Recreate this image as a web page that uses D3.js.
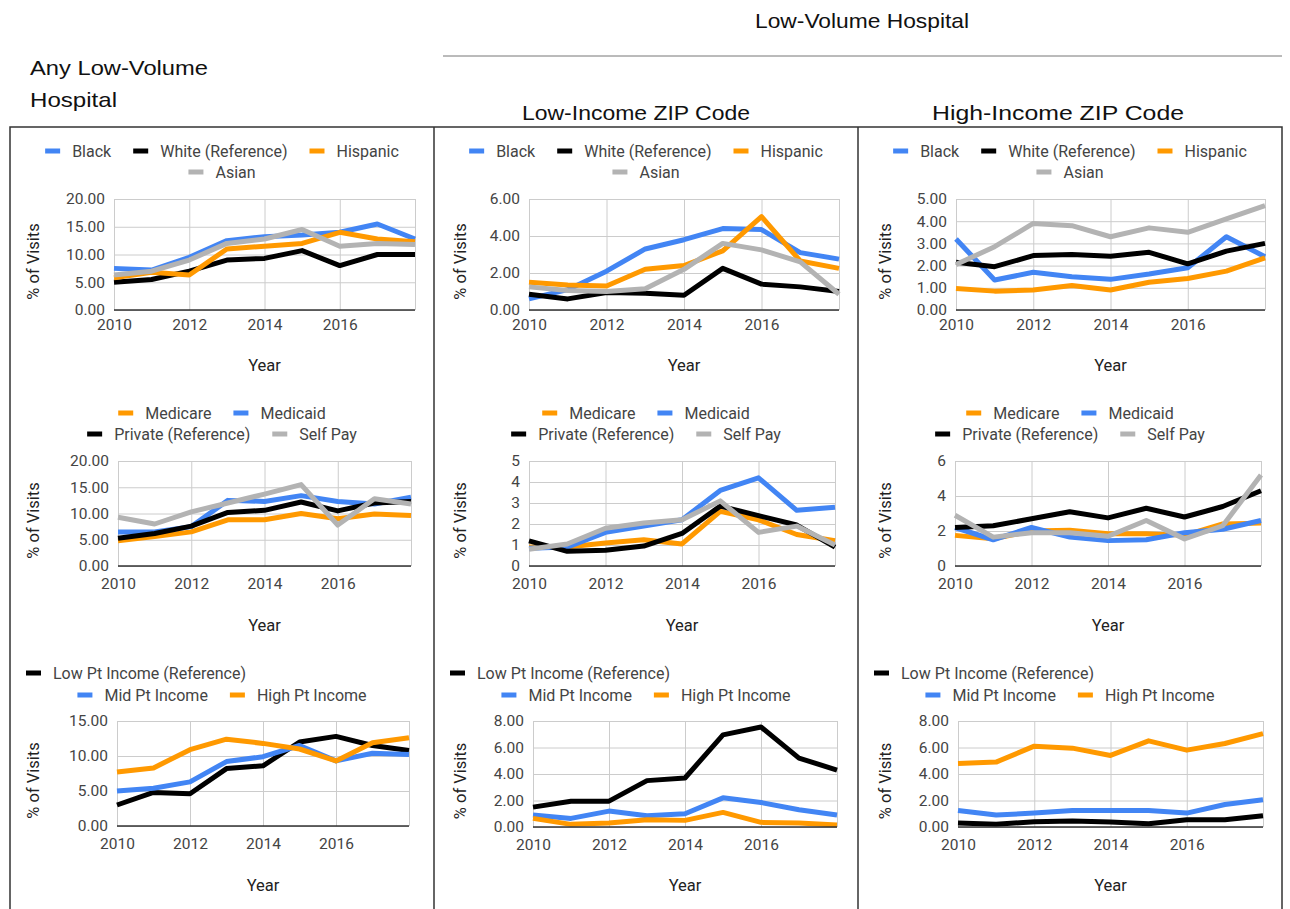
<!DOCTYPE html>
<html><head><meta charset="utf-8">
<script src="https://cdn.jsdelivr.net/npm/d3@7"></script>
<style>body{margin:0;background:#fff}svg{display:block}</style>
</head><body>
<svg id="c" width="1290" height="909"></svg>
<script>
// ---------- DATA ----------
const years = [2010, 2011, 2012, 2013, 2014, 2015, 2016, 2017, 2018];
const xTickYears = [2010, 2012, 2014, 2016];
const raceLabels = ["Black", "White (Reference)", "Hispanic", "Asian"];
const payerLabels = ["Medicare", "Medicaid", "Private (Reference)", "Self Pay"];
const incomeLabels = ["Low Pt Income (Reference)", "Mid Pt Income", "High Pt Income"];
const headerTop = "Low-Volume Hospital";
const headerAny = ["Any Low-Volume", "Hospital"];
const headerLowZip = "Low-Income ZIP Code";
const headerHighZip = "High-Income ZIP Code";
const xTitle = "Year";
const yTitle = "% of Visits";

// Any low-volume hospital — race
const anyBlack    = [7.5, 7.2, 9.5, 12.5, 13.2, 13.5, 14.0, 15.5, 12.8];
const anyWhite    = [5.0, 5.5, 7.0, 9.0, 9.3, 10.7, 8.0, 10.0, 10.0];
const anyHispanic = [5.8, 6.8, 6.3, 11.0, 11.5, 12.0, 14.0, 12.8, 12.3];
const anyAsian    = [6.3, 7.0, 9.0, 12.0, 12.8, 14.5, 11.5, 12.0, 11.8];
// Low-income ZIP — race
const lowBlack    = [0.6, 1.1, 2.1, 3.3, 3.8, 4.4, 4.35, 3.1, 2.75];
const lowWhite    = [0.85, 0.6, 0.95, 0.9, 0.8, 2.25, 1.4, 1.25, 1.0];
const lowHispanic = [1.5, 1.35, 1.3, 2.2, 2.4, 3.2, 5.05, 2.65, 2.25];
const lowAsian    = [1.25, 1.05, 1.0, 1.15, 2.2, 3.6, 3.25, 2.6, 0.85];
// High-income ZIP — race
const highBlack    = [3.2, 1.35, 1.7, 1.5, 1.38, 1.62, 1.9, 3.3, 2.4];
const highWhite    = [2.15, 1.95, 2.45, 2.5, 2.42, 2.6, 2.08, 2.65, 3.0];
const highHispanic = [0.97, 0.85, 0.9, 1.1, 0.9, 1.25, 1.42, 1.75, 2.35];
const highAsian    = [2.05, 2.85, 3.9, 3.8, 3.3, 3.7, 3.5, 4.1, 4.7];
// Any — payer
const anyMedicare = [4.8, 5.6, 6.5, 8.8, 8.8, 10.0, 9.0, 9.9, 9.6];
const anyMedicaid = [6.5, 6.5, 7.5, 12.5, 12.3, 13.4, 12.3, 11.8, 13.1];
const anyPrivate  = [5.3, 6.2, 7.6, 10.2, 10.6, 12.2, 10.5, 12.0, 12.3];
const anySelfPay  = [9.3, 8.0, 10.3, 12.0, 13.7, 15.5, 7.8, 12.8, 11.8];
// Low-income ZIP — payer
const lowMedicare = [0.9, 0.9, 1.1, 1.25, 1.05, 2.6, 2.2, 1.5, 1.2];
const lowMedicaid = [0.85, 0.9, 1.6, 1.9, 2.2, 3.6, 4.2, 2.65, 2.8];
const lowPrivate  = [1.2, 0.7, 0.75, 0.95, 1.55, 2.85, 2.4, 1.95, 0.9];
const lowSelfPay  = [0.8, 1.05, 1.8, 2.05, 2.2, 3.1, 1.6, 1.9, 1.0];
// High-income ZIP — payer
const highMedicare = [1.75, 1.55, 2.0, 2.05, 1.85, 1.85, 1.75, 2.4, 2.45];
const highMedicaid = [2.2, 1.5, 2.2, 1.65, 1.45, 1.5, 1.9, 2.1, 2.6];
const highPrivate  = [2.2, 2.3, 2.7, 3.1, 2.75, 3.3, 2.8, 3.4, 4.3];
const highSelfPay  = [2.9, 1.65, 1.9, 1.9, 1.7, 2.6, 1.55, 2.3, 5.2];
// Any — patient income
const anyLowInc  = [3.0, 4.8, 4.6, 8.2, 8.6, 12.0, 12.8, 11.5, 10.8];
const anyMidInc  = [5.0, 5.4, 6.3, 9.2, 9.9, 11.5, 9.3, 10.4, 10.2];
const anyHighInc = [7.7, 8.3, 10.9, 12.4, 11.8, 11.0, 9.3, 11.9, 12.6];
// Low-income ZIP — patient income
const lowLowInc  = [1.5, 1.95, 1.95, 3.5, 3.7, 6.95, 7.55, 5.2, 4.3];
const lowMidInc  = [0.9, 0.65, 1.2, 0.85, 1.0, 2.2, 1.85, 1.3, 0.9];
const lowHighInc = [0.65, 0.2, 0.3, 0.55, 0.5, 1.1, 0.35, 0.3, 0.15];
// High-income ZIP — patient income
const highLowInc  = [0.3, 0.2, 0.4, 0.45, 0.38, 0.25, 0.55, 0.55, 0.85];
const highMidInc  = [1.25, 0.9, 1.05, 1.25, 1.25, 1.25, 1.05, 1.7, 2.05];
const highHighInc = [4.8, 4.9, 6.1, 5.95, 5.4, 6.5, 5.8, 6.3, 7.05];

// ---------- STYLE / LAYOUT ----------
const BLUE = "#4285f4", BLACK = "#000000", ORANGE = "#ff9900", GRAY = "#b3b3b3";
const raceColors = [BLUE, BLACK, ORANGE, GRAY];
const payerColors = [ORANGE, BLUE, BLACK, GRAY];
const incomeColors = [BLACK, BLUE, ORANGE];
const colBounds = [[10, 434], [434, 858], [858, 1282]];

const panels = [
  {c:0, r:0, x0:114, x1:415, y0:199, y1:310, labels:raceLabels, colors:raceColors, series:[anyBlack, anyWhite, anyHispanic, anyAsian], yMax:20, yStep:5, fmt:".2f", rows:[[0,1,2],[3]]},
  {c:1, r:0, x0:529, x1:839, y0:199, y1:310, labels:raceLabels, colors:raceColors, series:[lowBlack, lowWhite, lowHispanic, lowAsian], yMax:6, yStep:2, fmt:".2f", rows:[[0,1,2],[3]]},
  {c:2, r:0, x0:956, x1:1265, y0:199, y1:310, labels:raceLabels, colors:raceColors, series:[highBlack, highWhite, highHispanic, highAsian], yMax:5, yStep:1, fmt:".2f", rows:[[0,1,2],[3]]},
  {c:0, r:1, x0:118, x1:411, y0:461, y1:566, labels:payerLabels, colors:payerColors, series:[anyMedicare, anyMedicaid, anyPrivate, anySelfPay], yMax:20, yStep:5, fmt:".2f", rows:[[0,1],[2,3]]},
  {c:1, r:1, x0:529, x1:835, y0:461, y1:566, labels:payerLabels, colors:payerColors, series:[lowMedicare, lowMedicaid, lowPrivate, lowSelfPay], yMax:5, yStep:1, fmt:"d", rows:[[0,1],[2,3]]},
  {c:2, r:1, x0:955, x1:1261, y0:461, y1:566, labels:payerLabels, colors:payerColors, series:[highMedicare, highMedicaid, highPrivate, highSelfPay], yMax:6, yStep:2, fmt:"d", rows:[[0,1],[2,3]]},
  {c:0, r:2, x0:117, x1:409, y0:721, y1:826, labels:incomeLabels, colors:incomeColors, series:[anyLowInc, anyMidInc, anyHighInc], yMax:15, yStep:5, fmt:".2f", rows:[[0],[1,2]], leftFirst:true},
  {c:1, r:2, x0:533, x1:837, y0:721, y1:827, labels:incomeLabels, colors:incomeColors, series:[lowLowInc, lowMidInc, lowHighInc], yMax:8, yStep:2, fmt:".2f", rows:[[0],[1,2]], leftFirst:true},
  {c:2, r:2, x0:958, x1:1263, y0:721, y1:827, labels:incomeLabels, colors:incomeColors, series:[highLowInc, highMidInc, highHighInc], yMax:8, yStep:2, fmt:".2f", rows:[[0],[1,2]], leftFirst:true}
];
const legendRowY = [[151, 172], [413, 434], [673, 695]];
const yearTitleY = [371, 631, 891];
const xLabelPad = [9, 12, 12];

const svg = d3.select("#c");
const FONT = "Roboto, 'Noto Sans', sans-serif";
const TFONT = "'Liberation Sans', Arial, sans-serif";

function header(x, y, anchor, len, t) {
  svg.append("text").attr("x", x).attr("y", y).attr("text-anchor", anchor)
    .attr("font-family", TFONT).attr("font-size", 21).attr("fill", "#111")
    .attr("textLength", len).attr("lengthAdjust", "spacingAndGlyphs").text(t);
}
header(862, 28, "middle", 214, headerTop);
svg.append("line").attr("x1", 443).attr("x2", 1282).attr("y1", 56).attr("y2", 56)
  .attr("stroke", "#777").attr("stroke-width", 1);
header(30, 75, "start", 178, headerAny[0]);
header(30, 107, "start", 87, headerAny[1]);
header(636, 120, "middle", 228, headerLowZip);
header(1058, 120, "middle", 252, headerHighZip);

// frame
svg.append("rect").attr("x", 10).attr("y", 127).attr("width", 1272).attr("height", 800)
  .attr("fill", "none").attr("stroke", "#333").attr("stroke-width", 1.5);
[434, 858].forEach(x => svg.append("line").attr("x1", x).attr("x2", x).attr("y1", 127).attr("y2", 909)
  .attr("stroke", "#333").attr("stroke-width", 1.5));

panels.forEach(p => {
  const g = svg.append("g");
  const x = d3.scaleLinear().domain([years[0], years[years.length - 1]]).range([p.x0, p.x1]);
  const y = d3.scaleLinear().domain([0, p.yMax]).range([p.y1, p.y0]);
  const yTicks = d3.range(0, p.yMax + 1e-9, p.yStep);

  // vertical gridlines
  const xg = g.append("g").attr("transform", `translate(0,${p.y1})`)
    .call(d3.axisBottom(x).tickValues(d3.range(years[0], years[years.length - 1] + 1, 2))
      .tickSize(-(p.y1 - p.y0)).tickFormat(""));
  xg.select(".domain").remove();
  xg.selectAll("line").attr("stroke", "#cccccc").attr("stroke-width", 1);

  // horizontal gridlines + labels
  const yg = g.append("g").attr("transform", `translate(${p.x0},0)`)
    .call(d3.axisLeft(y).tickValues(yTicks).tickSize(-(p.x1 - p.x0)).tickPadding(9)
      .tickFormat(d3.format(p.fmt)));
  yg.select(".domain").remove();
  yg.selectAll("line").attr("stroke", "#cccccc").attr("stroke-width", 1);
  yg.selectAll("text").attr("font-family", FONT).attr("font-size", 15.5).attr("fill", "#444");

  // x labels
  const xa = g.append("g").attr("transform", `translate(0,${p.y1})`)
    .call(d3.axisBottom(x).tickValues(xTickYears).tickSize(0).tickPadding(xLabelPad[p.r]).tickFormat(d3.format("d")));
  xa.select(".domain").remove();
  xa.selectAll("text").attr("font-family", FONT).attr("font-size", 15.5).attr("fill", "#444");

  // series lines
  const line = d3.line().x((d, i) => x(years[i])).y(d => y(d));
  p.series.forEach((s, i) => {
    g.append("path").datum(s).attr("d", line).attr("fill", "none")
      .attr("stroke", p.colors[i]).attr("stroke-width", 5)
      .attr("stroke-linejoin", "round").attr("stroke-linecap", "butt");
  });

  // baseline
  g.append("line").attr("x1", p.x0).attr("x2", p.x1).attr("y1", y(0)).attr("y2", y(0))
    .attr("stroke", "#333").attr("stroke-width", 1.5);

  // axis titles
  g.append("text").attr("x", (p.x0 + p.x1) / 2).attr("y", yearTitleY[p.r]).attr("text-anchor", "middle")
    .attr("font-family", FONT).attr("font-size", 16.5).attr("fill", "#222").text(xTitle);
  const [cl, cr] = colBounds[p.c];
  const ytx = cl + (p.c === 0 ? 29 : p.c === 1 ? 32 : 33);
  const yty = (p.y0 + p.y1) / 2 + 7;
  g.append("text").attr("transform", `translate(${ytx},${yty}) rotate(-90)`).attr("text-anchor", "middle")
    .attr("font-family", FONT).attr("font-size", 16.5).attr("fill", "#222").text(yTitle);

  // legend
  const SW = 15, SH = 5, GAP = 12, IG = 22;
  p.rows.forEach((row, ri) => {
    const ly = legendRowY[p.r][ri];
    const lg = g.append("g");
    let cx = 0;
    row.forEach(idx => {
      const it = lg.append("g").attr("transform", `translate(${cx},0)`);
      it.append("rect").attr("x", 0).attr("y", ly - SH / 2).attr("width", SW).attr("height", SH)
        .attr("fill", p.colors[idx]);
      const t = it.append("text").attr("x", SW + GAP).attr("y", ly + 5.5)
        .attr("font-family", FONT).attr("font-size", 16).attr("fill", "#444").text(p.labels[idx]);
      cx += SW + GAP + t.node().getComputedTextLength() + IG;
    });
    const w = cx - IG;
    const startX = (p.leftFirst && ri === 0) ? cl + 16 : (cl + cr) / 2 - w / 2;
    lg.attr("transform", `translate(${startX},0)`);
  });
});
</script>
</body></html>
